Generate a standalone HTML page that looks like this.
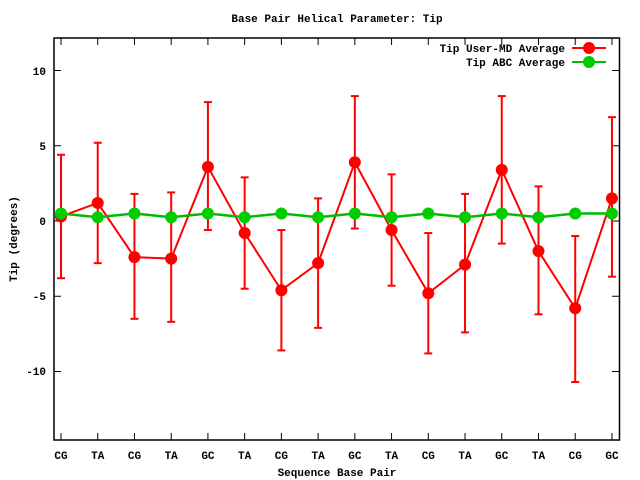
<html><body style="margin:0;background:#fff">
<svg width="640" height="480" xmlns="http://www.w3.org/2000/svg" font-family="Liberation Mono, monospace" font-size="11" font-weight="bold">
<rect width="640" height="480" fill="#fff"/>
<text x="337" y="22" text-anchor="middle">Base Pair Helical Parameter: Tip</text>
<rect x="54" y="38" width="565.5" height="402" fill="none" stroke="#000" stroke-width="1.5"/>
<g text-anchor="end">
<text x="46" y="75">10</text><text x="46" y="150">5</text><text x="46" y="225">0</text><text x="46" y="300">-5</text><text x="46" y="375">-10</text>
</g>
<text transform="translate(17,239) rotate(-90)" text-anchor="middle">Tip (degrees)</text>
<text x="337" y="476" text-anchor="middle">Sequence Base Pair</text>
<text x="565" y="52" text-anchor="end">Tip User-MD Average</text>
<text x="565" y="66" text-anchor="end">Tip ABC Average</text>
<line x1="572" y1="48" x2="606" y2="48" stroke="#f00" stroke-width="2"/>
<circle cx="589" cy="48" r="6" fill="#f00"/>
<line x1="572" y1="62" x2="606" y2="62" stroke="#0b0" stroke-width="2"/>
<circle cx="589" cy="62" r="6" fill="#0c0"/>
<g id="g"></g>
</svg>
<script>
const red=[[0.3,-3.8,4.4],[1.2,-2.8,5.2],[-2.4,-6.5,1.8],[-2.5,-6.7,1.9],[3.6,-0.6,7.9],[-0.8,-4.5,2.9],[-4.6,-8.6,-0.6],[-2.8,-7.1,1.5],[3.9,-0.5,8.3],[-0.6,-4.3,3.1],[-4.8,-8.8,-0.8],[-2.9,-7.4,1.8],[3.4,-1.5,8.3],[-2.0,-6.2,2.3],[-5.8,-10.7,-1.0],[1.5,-3.7,6.9]];
const labs=["CG","TA","CG","TA","GC","TA","CG","TA","GC","TA","CG","TA","GC","TA","CG","GC"];
const X=i=>61+i*36.73, Y=v=>221-15.05*v;
const G=i=>(i%2 && i!=15)?0.25:0.5;
let s="";
for(const v of [10,5,0,-5,-10]){s+=`<line x1="54" x2="61" y1="${Y(v)}" y2="${Y(v)}" stroke="#000"/><line x1="612" x2="619" y1="${Y(v)}" y2="${Y(v)}" stroke="#000"/>`;}
labs.forEach((l,i)=>{s+=`<line x1="${X(i)}" x2="${X(i)}" y1="38" y2="45" stroke="#000"/><line x1="${X(i)}" x2="${X(i)}" y1="433" y2="440" stroke="#000"/><text x="${X(i)}" y="459" text-anchor="middle" font-family="Liberation Mono" font-size="11" font-weight="bold">${l}</text>`;});
let pr=red.map((d,i)=>X(i)+","+Y(d[0])).join(" ");
let pg=red.map((d,i)=>X(i)+","+Y(G(i))).join(" ");
red.forEach((d,i)=>{const x=X(i);s+=`<g stroke="#f00" stroke-width="2"><line x1="${x}" x2="${x}" y1="${Y(d[1])}" y2="${Y(d[2])}"/><line x1="${x-4}" x2="${x+4}" y1="${Y(d[1])}" y2="${Y(d[1])}"/><line x1="${x-4}" x2="${x+4}" y1="${Y(d[2])}" y2="${Y(d[2])}"/></g>`;});
s+=`<polyline points="${pr}" fill="none" stroke="#f00" stroke-width="2"/>`;
red.forEach((d,i)=>{s+=`<circle cx="${X(i)}" cy="${Y(d[0])}" r="6" fill="#f00"/>`;});
s+=`<polyline points="${pg}" fill="none" stroke="#0b0" stroke-width="2.5"/>`;
red.forEach((d,i)=>{s+=`<circle cx="${X(i)}" cy="${Y(G(i))}" r="6" fill="#0c0"/>`;});
document.getElementById("g").innerHTML=s;
</script>
</body></html>
